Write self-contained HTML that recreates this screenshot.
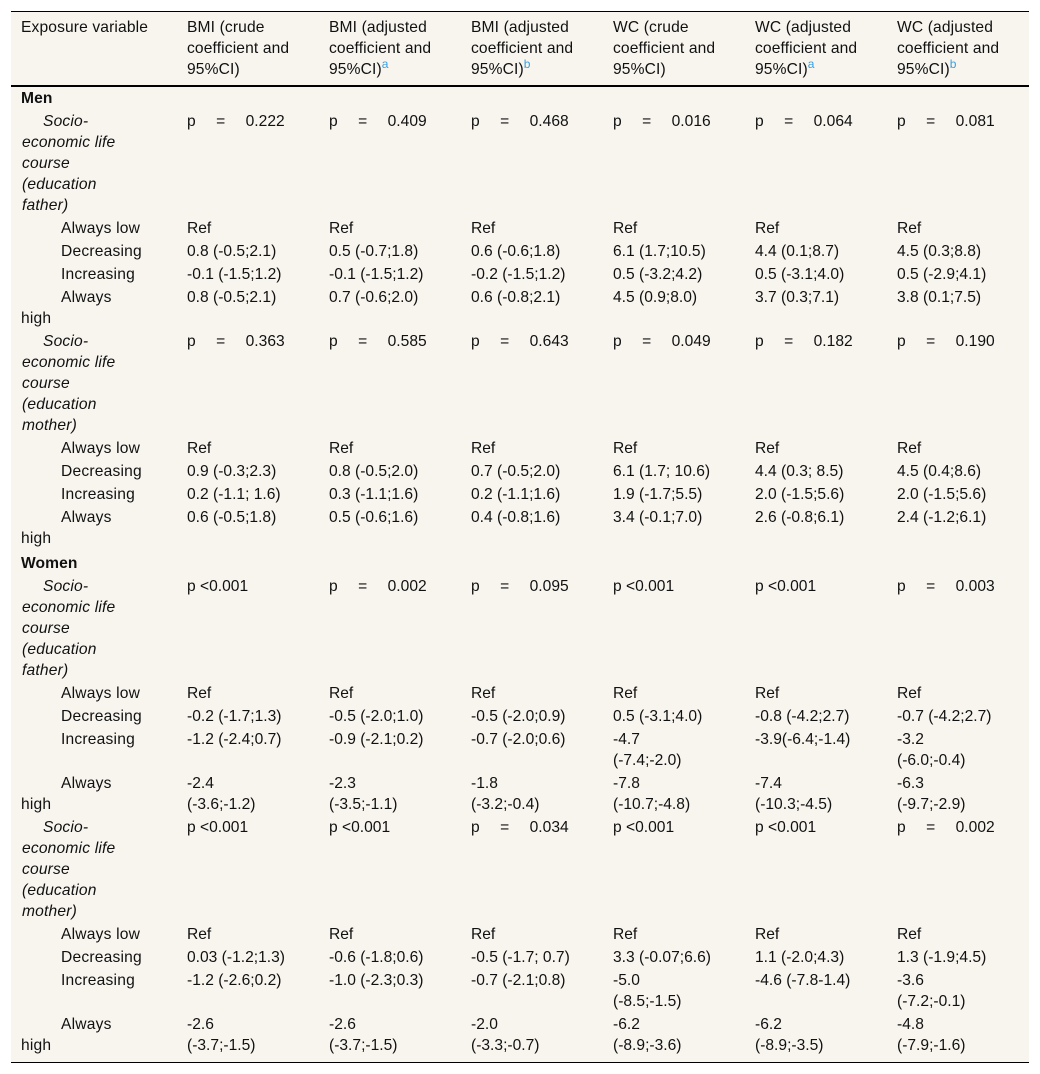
<!DOCTYPE html>
<html lang="en">
<head>
<meta charset="utf-8">
<title>Exposure table</title>
<style>
html,body{margin:0;padding:0;background:#fff;}
body{width:1040px;height:1074px;overflow:hidden;position:relative;font-family:"Liberation Sans",Arial,sans-serif;color:#111;}
table{position:absolute;left:11px;top:11px;width:1018px;table-layout:fixed;border-collapse:separate;border-spacing:0;background:#f8f5ef;font-size:15.6px;line-height:21px;border-top:1px solid #000;border-bottom:1px solid #000;text-rendering:optimizeSpeed;}
col.c0{width:166px;}
col.cn{width:142px;}
th,td{padding:1px 0 1px 10px;vertical-align:top;text-align:left;font-weight:normal;white-space:nowrap;}
thead th{padding-top:5px;padding-bottom:5px;border-bottom:2px solid #000;letter-spacing:.13px;}
.g{font-weight:bold;letter-spacing:.1px;}
tr.w td{padding-top:3px;}
.s{font-style:italic;text-indent:21px;padding-left:11px;letter-spacing:.18px;}
.l{text-indent:40px;padding-left:10px;letter-spacing:.2px;}
.p{word-spacing:16px;letter-spacing:.03px;}
sup{line-height:0;font-size:12px;color:#3b9fdc;vertical-align:6px;letter-spacing:0;}
tr.last td{padding-bottom:6px;}
</style>
</head>
<body>
<table>
<colgroup><col class="c0"><col class="cn"><col class="cn"><col class="cn"><col class="cn"><col class="cn"><col class="cn"></colgroup>
<thead>
<tr>
<th>Exposure variable</th>
<th>BMI (crude<br>coefficient and<br>95%CI)</th>
<th>BMI (adjusted<br>coefficient and<br>95%CI)<sup>a</sup></th>
<th>BMI (adjusted<br>coefficient and<br>95%CI)<sup>b</sup></th>
<th>WC (crude<br>coefficient and<br>95%CI)</th>
<th>WC (adjusted<br>coefficient and<br>95%CI)<sup>a</sup></th>
<th>WC (adjusted<br>coefficient and<br>95%CI)<sup>b</sup></th>
</tr>
</thead>
<tbody>
<tr><td class="g">Men</td><td colspan="6"></td></tr>

<tr>
<td class="s">Socio-<br>economic life<br>course<br>(education<br>father)</td>
<td class="p">p = 0.222</td><td class="p">p = 0.409</td><td class="p">p = 0.468</td><td class="p">p = 0.016</td><td class="p">p = 0.064</td><td class="p">p = 0.081</td>
</tr>
<tr>
<td class="l">Always low</td>
<td>Ref</td><td>Ref</td><td>Ref</td><td>Ref</td><td>Ref</td><td>Ref</td>
</tr>
<tr>
<td class="l">Decreasing</td>
<td>0.8 (-0.5;2.1)</td><td>0.5 (-0.7;1.8)</td><td>0.6 (-0.6;1.8)</td><td>6.1 (1.7;10.5)</td><td>4.4 (0.1;8.7)</td><td>4.5 (0.3;8.8)</td>
</tr>
<tr>
<td class="l">Increasing</td>
<td>-0.1 (-1.5;1.2)</td><td>-0.1 (-1.5;1.2)</td><td>-0.2 (-1.5;1.2)</td><td>0.5 (-3.2;4.2)</td><td>0.5 (-3.1;4.0)</td><td>0.5 (-2.9;4.1)</td>
</tr>
<tr>
<td class="l">Always<br>high</td>
<td>0.8 (-0.5;2.1)</td><td>0.7 (-0.6;2.0)</td><td>0.6 (-0.8;2.1)</td><td>4.5 (0.9;8.0)</td><td>3.7 (0.3;7.1)</td><td>3.8 (0.1;7.5)</td>
</tr>

<tr>
<td class="s">Socio-<br>economic life<br>course<br>(education<br>mother)</td>
<td class="p">p = 0.363</td><td class="p">p = 0.585</td><td class="p">p = 0.643</td><td class="p">p = 0.049</td><td class="p">p = 0.182</td><td class="p">p = 0.190</td>
</tr>
<tr>
<td class="l">Always low</td>
<td>Ref</td><td>Ref</td><td>Ref</td><td>Ref</td><td>Ref</td><td>Ref</td>
</tr>
<tr>
<td class="l">Decreasing</td>
<td>0.9 (-0.3;2.3)</td><td>0.8 (-0.5;2.0)</td><td>0.7 (-0.5;2.0)</td><td>6.1 (1.7; 10.6)</td><td>4.4 (0.3; 8.5)</td><td>4.5 (0.4;8.6)</td>
</tr>
<tr>
<td class="l">Increasing</td>
<td>0.2 (-1.1; 1.6)</td><td>0.3 (-1.1;1.6)</td><td>0.2 (-1.1;1.6)</td><td>1.9 (-1.7;5.5)</td><td>2.0 (-1.5;5.6)</td><td>2.0 (-1.5;5.6)</td>
</tr>
<tr>
<td class="l">Always<br>high</td>
<td>0.6 (-0.5;1.8)</td><td>0.5 (-0.6;1.6)</td><td>0.4 (-0.8;1.6)</td><td>3.4 (-0.1;7.0)</td><td>2.6 (-0.8;6.1)</td><td>2.4 (-1.2;6.1)</td>
</tr>

<tr class="w"><td class="g">Women</td><td colspan="6"></td></tr>

<tr>
<td class="s">Socio-<br>economic life<br>course<br>(education<br>father)</td>
<td>p &lt;0.001</td><td class="p">p = 0.002</td><td class="p">p = 0.095</td><td>p &lt;0.001</td><td>p &lt;0.001</td><td class="p">p = 0.003</td>
</tr>
<tr>
<td class="l">Always low</td>
<td>Ref</td><td>Ref</td><td>Ref</td><td>Ref</td><td>Ref</td><td>Ref</td>
</tr>
<tr>
<td class="l">Decreasing</td>
<td>-0.2 (-1.7;1.3)</td><td>-0.5 (-2.0;1.0)</td><td>-0.5 (-2.0;0.9)</td><td>0.5 (-3.1;4.0)</td><td>-0.8 (-4.2;2.7)</td><td>-0.7 (-4.2;2.7)</td>
</tr>
<tr>
<td class="l">Increasing</td>
<td>-1.2 (-2.4;0.7)</td><td>-0.9 (-2.1;0.2)</td><td>-0.7 (-2.0;0.6)</td><td>-4.7<br>(-7.4;-2.0)</td><td>-3.9(-6.4;-1.4)</td><td>-3.2<br>(-6.0;-0.4)</td>
</tr>
<tr>
<td class="l">Always<br>high</td>
<td>-2.4<br>(-3.6;-1.2)</td><td>-2.3<br>(-3.5;-1.1)</td><td>-1.8<br>(-3.2;-0.4)</td><td>-7.8<br>(-10.7;-4.8)</td><td>-7.4<br>(-10.3;-4.5)</td><td>-6.3<br>(-9.7;-2.9)</td>
</tr>

<tr>
<td class="s">Socio-<br>economic life<br>course<br>(education<br>mother)</td>
<td>p &lt;0.001</td><td>p &lt;0.001</td><td class="p">p = 0.034</td><td>p &lt;0.001</td><td>p &lt;0.001</td><td class="p">p = 0.002</td>
</tr>
<tr>
<td class="l">Always low</td>
<td>Ref</td><td>Ref</td><td>Ref</td><td>Ref</td><td>Ref</td><td>Ref</td>
</tr>
<tr>
<td class="l">Decreasing</td>
<td>0.03 (-1.2;1.3)</td><td>-0.6 (-1.8;0.6)</td><td>-0.5 (-1.7; 0.7)</td><td>3.3 (-0.07;6.6)</td><td>1.1 (-2.0;4.3)</td><td>1.3 (-1.9;4.5)</td>
</tr>
<tr>
<td class="l">Increasing</td>
<td>-1.2 (-2.6;0.2)</td><td>-1.0 (-2.3;0.3)</td><td>-0.7 (-2.1;0.8)</td><td>-5.0<br>(-8.5;-1.5)</td><td>-4.6 (-7.8-1.4)</td><td>-3.6<br>(-7.2;-0.1)</td>
</tr>
<tr class="last">
<td class="l">Always<br>high</td>
<td>-2.6<br>(-3.7;-1.5)</td><td>-2.6<br>(-3.7;-1.5)</td><td>-2.0<br>(-3.3;-0.7)</td><td>-6.2<br>(-8.9;-3.6)</td><td>-6.2<br>(-8.9;-3.5)</td><td>-4.8<br>(-7.9;-1.6)</td>
</tr>
</tbody>
</table>
</body>
</html>
